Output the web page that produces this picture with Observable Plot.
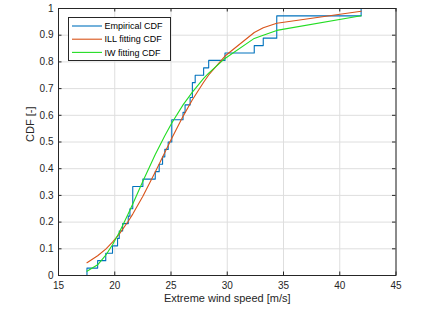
<!DOCTYPE html>
<html><head><meta charset="utf-8">
<script src="https://cdn.jsdelivr.net/npm/d3@7"></script>
<script src="https://cdn.jsdelivr.net/npm/@observablehq/plot@0.6"></script>
<style>body{margin:0;background:#fff;} #chart{width:430px;height:319px;}</style>
</head><body><div id="chart"></div>
<script>
// sorted extreme wind speeds (empirical sample, 36 values incl. ties)
const speeds = [17.53, 18.48, 19.2, 19.8, 20.25, 20.4, 20.7, 21.2, 21.35, 21.6, 21.6, 21.6,
  22.5, 23.6, 23.95, 24.25, 24.45, 24.75, 25.07, 25.07, 25.07, 26.07, 26.25, 26.7,
  26.9, 26.9, 27.15, 27.9, 28.35, 29.8, 32.4, 33.2, 34.4, 34.4, 34.4, 41.9];
// fitted CDF curves evaluated at sample points
const fitX   = [17.53, 18.48, 19.2, 19.8, 20.4, 21.2, 21.6, 22.5, 23.6, 24.45, 25.07, 26.07, 26.9, 27.9, 28.35, 29.8, 32.4, 33.2, 34.4, 41.9];
const illCdf = [0.048, 0.074, 0.099, 0.125, 0.155, 0.203, 0.23, 0.297, 0.388, 0.461, 0.514, 0.596, 0.658, 0.724, 0.751, 0.822, 0.91, 0.928, 0.945, 0.99];
const iwCdf  = [0.016, 0.040, 0.076, 0.115, 0.161, 0.231, 0.268, 0.353, 0.453, 0.523, 0.571, 0.639, 0.687, 0.738, 0.758, 0.813, 0.888, 0.90, 0.918, 0.973];
const xTicks = [15, 20, 25, 30, 35, 40, 45];
const yTicks = [0, 0.1, 0.2, 0.3, 0.4, 0.5, 0.6, 0.7, 0.8, 0.9, 1];
const yTickLabels = ["0", "0.1", "0.2", "0.3", "0.4", "0.5", "0.6", "0.7", "0.8", "0.9", "1"];
const legendLabels = ["Empirical CDF", "ILL fitting CDF", "IW fitting CDF"];
const colors = ["#0072BD", "#D95319", "#22DD22"];
const xLabel = "Extreme wind speed [m/s]";
const yLabel = "CDF [-]";

const W = 430, H = 319, ML = 58, MR = 34.5, MT = 8, MB = 44;
const FW = W - ML - MR, FH = H - MT - MB, TL = 3.5;
const font = "'Liberation Sans', Arial, Helvetica, sans-serif";
const ink = "#262626";

const n = speeds.length;
const ecdf = [{x: speeds[0], y: 0}, ...speeds.map((s, i) => ({x: s, y: (i + 1) / n}))];
const ill = fitX.map((x, i) => ({x, y: illCdf[i]}));
const iw = fitX.map((x, i) => ({x, y: iwCdf[i]}));

const chart = Plot.plot({
  width: W, height: H,
  marginLeft: ML, marginRight: MR, marginTop: MT, marginBottom: MB,
  style: {fontFamily: font, fontSize: "10px", color: ink, background: "#fff", overflow: "visible"},
  x: {domain: [15, 45]},
  y: {domain: [0, 1]},
  marks: [
    Plot.ruleX(xTicks, {stroke: "#dedede", strokeWidth: 1}),
    Plot.ruleY(yTicks, {stroke: "#dedede", strokeWidth: 1}),
    Plot.line(ecdf, {x: "x", y: "y", curve: "step-after", stroke: colors[0], strokeWidth: 1.1}),
    Plot.line(ill, {x: "x", y: "y", stroke: colors[1], strokeWidth: 1.1}),
    Plot.line(iw, {x: "x", y: "y", stroke: colors[2], strokeWidth: 1.1}),
    Plot.ruleX(xTicks, {insetTop: FH - TL, stroke: ink}),
    Plot.ruleX(xTicks, {insetBottom: FH - TL, stroke: ink}),
    Plot.ruleY(yTicks, {insetRight: FW - TL, stroke: ink}),
    Plot.ruleY(yTicks, {insetLeft: FW - TL, stroke: ink}),
    Plot.frame({stroke: ink, strokeWidth: 1}),
    Plot.axisX({ticks: xTicks, tickSize: 0, tickPadding: 6, label: null, fill: ink, fontSize: 10}),
    Plot.axisY({ticks: yTicks, tickFormat: (d, i) => yTickLabels[i], tickSize: 0, tickPadding: 5, label: null, fill: ink, fontSize: 10}),
    Plot.text([xLabel], {frameAnchor: "bottom", dy: 26, fontSize: 11, fill: ink}),
    Plot.text([yLabel], {frameAnchor: "left", dx: -28.5, rotate: -90, fontSize: 11, fill: ink})
  ]
});
document.getElementById("chart").appendChild(chart);

// legend (inside plot, top-left)
const svg = d3.select(chart);
const lg = svg.append("g").attr("font-family", font).attr("font-size", 9).attr("fill", "#000")
  .attr("text-anchor", "start");
lg.append("rect").attr("x", 68.5).attr("y", 17.5).attr("width", 102).attr("height", 43)
  .attr("fill", "#fff").attr("stroke", ink).attr("stroke-width", 1);
legendLabels.forEach((lab, i) => {
  const yy = 26 + i * 13.2;
  lg.append("line").attr("x1", 72).attr("x2", 102).attr("y1", yy).attr("y2", yy)
    .attr("stroke", colors[i]).attr("stroke-width", 1.1);
  lg.append("text").attr("x", 104.5).attr("y", yy).attr("dy", "0.35em")
    .attr("text-anchor", "start").style("text-anchor", "start").text(lab);
});
</script>
</body></html>
